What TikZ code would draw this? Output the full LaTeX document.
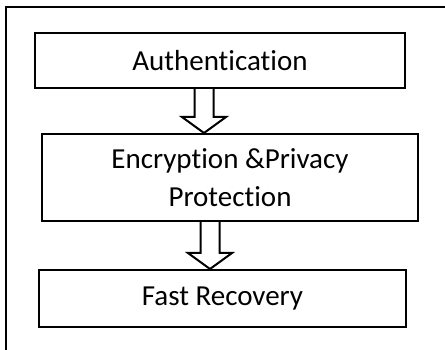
\documentclass[tikz,border=0pt]{standalone}
\usepackage{fontspec}
\setmainfont{Carlito}[Ligatures=NoCommon]
\usetikzlibrary{positioning, calc}

% hollow block arrow: #1 where the shaft leaves, #2 where the tip lands
\newcommand{\blockarrow}[2]{%
  \draw[line width=2pt, line join=miter]
    ($(#1)+(-9.5,0)$) -- ($(#2)+(-9.5,16)$) -- ($(#2)+(-22,16)$) -- (#2)
    -- ($(#2)+(22,16)$) -- ($(#2)+(9.5,16)$) -- ($(#1)+(9.5,0)$);}

\begin{document}
\begin{tikzpicture}[x=1pt, y=1pt,
    stage/.style={draw, line width=2pt, inner sep=0pt, align=center,
      font=\fontsize{29}{38}\selectfont}]
  \useasboundingbox (0,0) rectangle (445,350);
  % frame
  \draw[line width=1.3pt] (6,-5) |- (450,343);
  \node[stage, minimum width=370pt, minimum height=55pt] (auth) at (220,289.5) {Authentication};
  \node[stage, minimum width=376pt, minimum height=87pt, below=44pt of auth, xshift=10pt] (enc) {Encryption \&Privacy\\Protection};
  \node[stage, minimum width=367pt, minimum height=57pt, below=47pt of enc, xshift=-7.5pt] (rec) {Fast Recovery};
  \coordinate (a1) at (204,0);
  \coordinate (a2) at (210,0);
  \blockarrow{auth.south -| a1}{enc.north -| a1}
  \blockarrow{enc.south -| a2}{rec.north -| a2}
\end{tikzpicture}
\end{document}
